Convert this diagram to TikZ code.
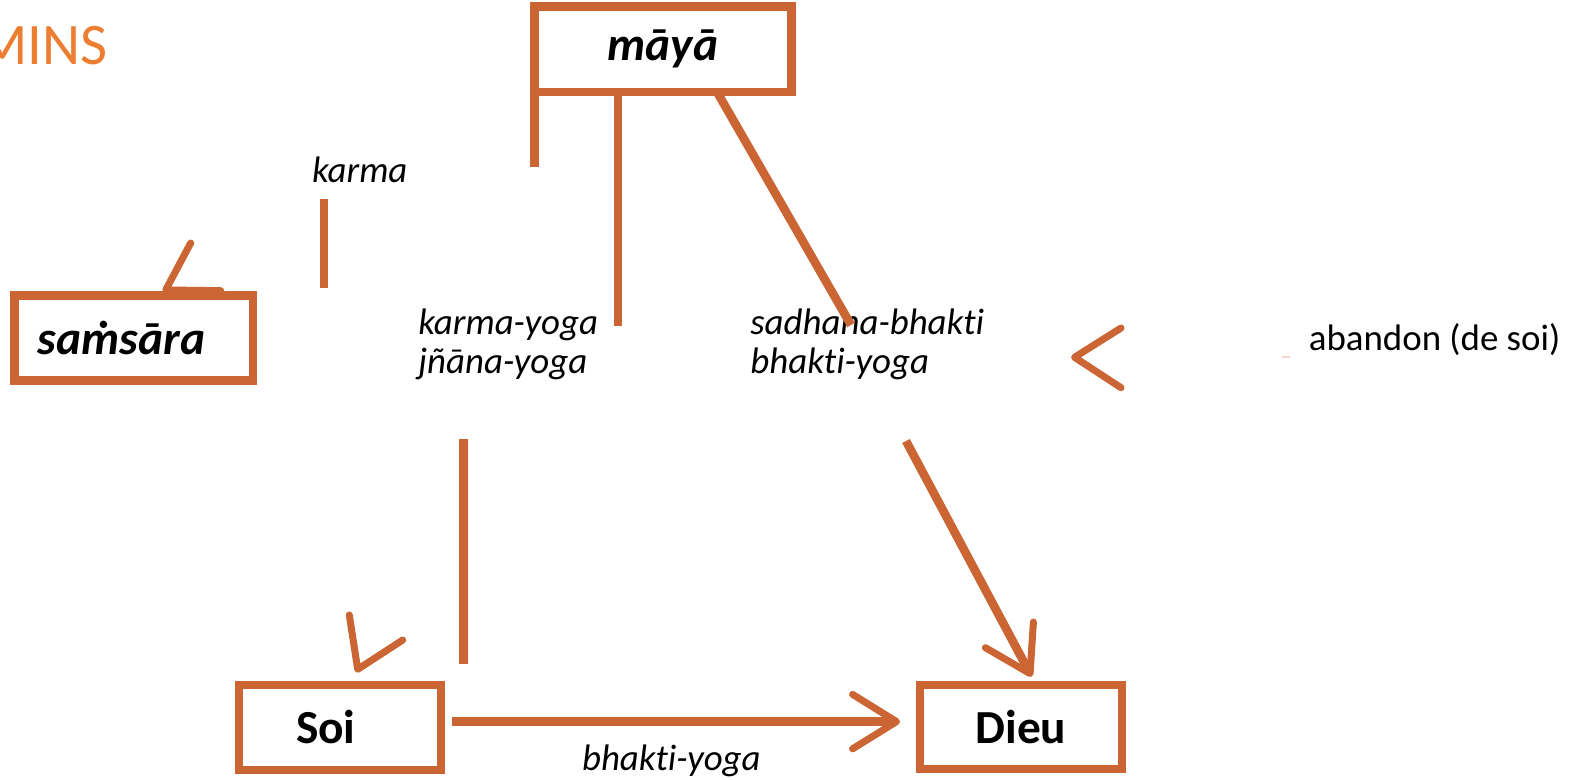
\documentclass[tikz,border=0pt]{standalone}
\usepackage{fontspec}
\setmainfont{Carlito}[Ligatures=NoCommon]
\usetikzlibrary{arrows.meta}
\definecolor{rust}{RGB}{203,101,52}
\definecolor{titleorange}{RGB}{237,125,49}

\begin{document}
\begin{tikzpicture}[x=0.02cm,y=-0.02cm,
  box/.style={draw=rust, line width=5pt, inner sep=0pt, outer sep=0pt, font=\fontsize{27pt}{30pt}\selectfont\bfseries},
  word/.style={inner sep=0pt, anchor=base west, font=\fontsize{21pt}{22pt}\selectfont\itshape},
  link/.style={draw=rust, line width=4.9pt},
  chevron/.style={draw=rust, line width=4pt, line cap=round, line join=round},
  barb/.style={-{Straight Barb[length=25pt,width=31pt,line width=4pt,round]}}
]
\useasboundingbox (0,0) rectangle (1581,780);

\node[anchor=base east, inner sep=0pt, text=titleorange, font=\fontsize{33.5pt}{36pt}\selectfont] (title) at (108,65) {MINS};

% boxes
\node[box, minimum width=5.14cm, minimum height=1.706cm, font=\fontsize{27pt}{30pt}\selectfont\bfseries\itshape] (maya) at (663,49.3) {māyā};
\node[box, minimum width=4.77cm, minimum height=1.70cm, text width=3.83cm, align=left, font=\fontsize{27pt}{30pt}\selectfont\bfseries\itshape] (samsara) at (133.7,338) {saṁsāra};
\node[box, minimum width=4.04cm, minimum height=1.70cm, text width=1.76cm, align=left] (soi) at (340,727.5) {Soi};
\node[box, minimum width=4.04cm, minimum height=1.68cm] (dieu) at (1021,727) {Dieu};

% texts
\node[word] (karma) at (311.7,182.5) {karma};
\node[word] (kyoga) at (418,334.5) {karma-yoga};
\node[word] (jyoga) at (418,373.5) {jñāna-yoga};
\node[word] (sbhakti) at (750,334.5) {sadhana-bhakti};
\node[word] (byoga) at (750,373.5) {bhakti-yoga};
\node[word] (byogalow) at (581.7,770) {bhakti-yoga};
\node[word, font=\fontsize{21pt}{22pt}\selectfont\upshape] (abandon) at (1308.5,350.5) {abandon (de soi)};

\coordinate (karmatop) at (323.8,199);
\coordinate (karmabot) at (323.8,288);
\coordinate (mayaleg) at (534.5,167);
\coordinate (kyend) at (618,326);
\coordinate (sbend) at (851,325);
\coordinate (soitop) at (463.5,439);
\coordinate (soibot) at (463.5,664.3);
\coordinate (dieuin) at (900,721.6);
\coordinate (dieustart) at (906,441);
\coordinate (dieutip) at (1031.7,676.7);

\draw[link] (karmatop) -- (karmabot);
\draw[link] (maya.south west) -- (mayaleg);
\draw[link] (maya.south -| kyend) -- (kyend);
\draw[link] ([xshift=1.08cm]maya.south) -- (sbend);
\draw[link] (soitop) -- (soibot);
\draw[link, barb, shorten <=6.4pt] (soi.east |- dieuin) -- (dieuin);
\draw[link, barb] (dieustart) -- (dieutip);

% open heads
\draw[chevron] (190.7,243) -- (165.7,290) -- (220.7,290.7);
\draw[chevron] (349.3,615) -- (357.7,669.3) -- (402.7,640);
\draw[chevron] (1121,328) -- (1074.5,357.3) -- (1121,387.7);
\draw[draw=rust!25, line width=0.6pt] (1281.5,357) -- (1290,357);

\end{tikzpicture}
\end{document}
